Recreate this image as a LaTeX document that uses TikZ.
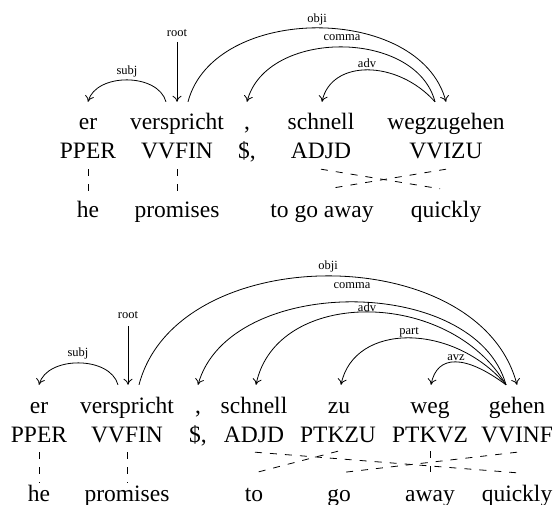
\documentclass[tikz,border=0pt]{standalone}
\usepackage{fontspec}
\setmainfont{Liberation Serif}
\usetikzlibrary{arrows.meta}
\begin{document}
\begin{tikzpicture}[x=1pt,y=-1pt,
  word/.style={anchor=base,inner sep=0pt,text height=16pt,text depth=5pt,font=\fontsize{23.5}{28}\selectfont},
  lab/.style={inner sep=0pt,font=\fontsize{12.5}{15}\selectfont},
  dep/.style={line width=0.8pt,-{Computer Modern Rightarrow[length=6pt,width=9pt]}},
  alignline/.style={line width=0.8pt,dash pattern=on 7pt off 8pt}]
\useasboundingbox (0,0) rectangle (554,505);
% ---------------- top sentence ----------------
\node[word] (a1) at (88,130) {er};
\node[word] (a2) at (177,130) {verspricht};
\node[word] (a3) at (247,130) {,};
\node[word] (a4) at (321,130) {schnell};
\node[word] (a5) at (446,130) {wegzugehen};
\node[word] (p1) at (88,159) {PPER};
\node[word] (p2) at (177,159) {VVFIN};
\node[word] (p3) at (247,159) {\$,};
\node[word] (p4) at (321,159) {ADJD};
\node[word] (p5) at (446,159) {VVIZU};
\node[word] (e1) at (88,218) {he};
\node[word] (e2) at (177,218) {promises};
\node[word] (e3) at (322,218) {to go away};
\node[word] (e4) at (446,218) {quickly};
\coordinate (rootA) at (177,42);
\draw[dep] (rootA) -- ([shift={(0,-12)}]a2.north);
\node[lab] (lrootA) at (177,33) {root};
\draw[dep] ([shift={(-11,-12)}]a2.north) .. controls (158,72.7) and (96,72.7) .. ([shift={(0,-12)}]a1.north);
\node[lab] (lsubjA) at (127,71) {subj};
\draw[dep] ([shift={(11,-12)}]a2.north) .. controls (214,3.3) and (420,3.3) .. ([shift={(0,-12)}]a5.north);
\node[lab] (lobjiA) at (317,19) {obji};
\draw[dep] ([shift={(-11,-12)}]a5.north) .. controls (416,28.7) and (266,28.7) .. ([shift={(0,-12)}]a3.north);
\node[lab] (lcommaA) at (342,38) {comma};
\draw[dep] ([shift={(-11,-12)}]a5.north) .. controls (397,59.3) and (331,59.3) .. ([shift={(1,-12)}]a4.north);
\node[lab] (ladvA) at (367,63) {adv};
\draw[alignline] ([shift={(0,5)}]p1.south) -- ([shift={(0,-10)}]e1.north);
\draw[alignline] ([shift={(0,5)}]p2.south) -- ([shift={(0,-10)}]e2.north);
\draw[alignline] ([shift={(0,5)}]p4.south) -- ([shift={(-6,-13)}]e4.north);
\draw[alignline] ([shift={(0,5)}]p5.south) -- ([shift={(6,-13)}]e3.north);
% ---------------- bottom sentence ----------------
\node[word] (b1) at (39,413) {er};
\node[word] (b2) at (127,413) {verspricht};
\node[word] (b3) at (198,413) {,};
\node[word] (b4) at (254,413) {schnell};
\node[word] (b5) at (339,413) {zu};
\node[word] (b6) at (430,413) {weg};
\node[word] (b7) at (517,413) {gehen};
\node[word] (q1) at (39,442) {PPER};
\node[word] (q2) at (127,442) {VVFIN};
\node[word] (q3) at (198,442) {\$,};
\node[word] (q4) at (254,442) {ADJD};
\node[word] (q5) at (338,442) {PTKZU};
\node[word] (q6) at (430,442) {PTKVZ};
\node[word] (q7) at (517,442) {VVINF};
\node[word] (f1) at (39,501) {he};
\node[word] (f2) at (127,501) {promises};
\node[word] (f3) at (254,501) {to};
\node[word] (f4) at (339,501) {go};
\node[word] (f5) at (430,501) {away};
\node[word] (f6) at (517,501) {quickly};
\coordinate (rootB) at (128,326);
\draw[dep] (rootB) -- ([shift={(1,-12)}]b2.north);
\node[lab] (lrootB) at (128,315) {root};
\draw[dep] ([shift={(-9,-12)}]b2.north) .. controls (110,355.7) and (47,355.7) .. ([shift={(0,-12)}]b1.north);
\node[lab] (lsubjB) at (78,353) {subj};
\draw[dep] ([shift={(12,-12)}]b2.north) .. controls (177,239.7) and (479,239.7) .. ([shift={(0,-12)}]b7.north);
\node[lab] (lobjiB) at (328,266) {obji};
\draw[dep] ([shift={(-11,-12)}]b7.north) .. controls (475,274.3) and (229,274.3) .. ([shift={(0,-12)}]b3.north);
\node[lab] (lcommaB) at (352,286) {comma};
\draw[dep] ([shift={(-11,-12)}]b7.north) .. controls (449,287.7) and (276,287.7) .. ([shift={(2,-12)}]b4.north);
\node[lab] (ladvB) at (367,307) {adv};
\draw[dep] ([shift={(-11,-12)}]b7.north) .. controls (453,322.3) and (354,322.3) .. ([shift={(2,-12)}]b5.north);
\node[lab] (lpartB) at (409,332) {part};
\draw[dep] ([shift={(-11,-12)}]b7.north) .. controls (465,354.3) and (437,354.3) .. ([shift={(1,-12)}]b6.north);
\node[lab] (lavzB) at (456,358) {avz};
\draw[alignline] ([shift={(0,5)}]q1.south) -- ([shift={(0,-2)}]f1.north);
\draw[alignline] ([shift={(0,5)}]q2.south) -- ([shift={(0,-2)}]f2.north);
\draw[alignline] ([shift={(0,4)}]q6.south) -- ([shift={(0,-13)}]f5.north);
\draw[alignline] ([shift={(1,5)}]q4.south) -- ([shift={(0,-12)}]f6.north);
\draw[alignline] ([shift={(0,4)}]q5.south) -- ([shift={(1,-12)}]f3.north);
\draw[alignline] ([shift={(0,5)}]q7.south) -- ([shift={(1,-12)}]f4.north);
\end{tikzpicture}
\end{document}
